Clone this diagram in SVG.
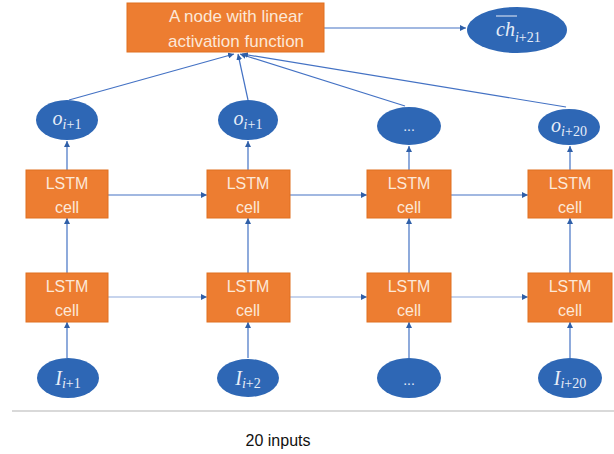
<svg xmlns="http://www.w3.org/2000/svg" width="614" height="454" viewBox="0 0 614 454">
<style>
.box{fill:#ED7D31;stroke:#E07020;stroke-width:1}
.ell{fill:#2E67B5}
.btxt{font-family:"Liberation Sans",Arial,sans-serif;font-size:16px;fill:#FCE8D8;text-anchor:middle}
.ttxt{font-family:"Liberation Sans",Arial,sans-serif;font-size:17px;fill:#FCE8D8;text-anchor:middle}
.mtxt{font-family:"Liberation Serif","Times New Roman",serif;font-style:italic;font-size:20px;fill:#E8EEF8;text-anchor:middle}
.sub{font-size:14px}
.up{font-style:normal}
.dots{font-family:"Liberation Sans",Arial,sans-serif;font-size:14px;fill:#E8EEF8;text-anchor:middle}
.ln{stroke:#4472C4;stroke-width:1.2;fill:none}
.lnl{stroke:#8FAADC;stroke-width:1.2;fill:none}
</style>
<defs>
<marker id="ah" viewBox="0 0 10 10" refX="10" refY="5" markerWidth="6" markerHeight="6" orient="auto" markerUnits="userSpaceOnUse">
<path d="M0,0 L10,5 L0,10 z" fill="#2F5FA8"/>
</marker>
</defs>

<g id="connectors">
<line class="ln" x1="324" y1="28" x2="466" y2="28" marker-end="url(#ah)"/>
<line class="ln" x1="69" y1="100" x2="234" y2="54" marker-end="url(#ah)"/>
<line class="ln" x1="248" y1="100" x2="238" y2="54" marker-end="url(#ah)"/>
<line class="ln" x1="405" y1="106" x2="240" y2="54" marker-end="url(#ah)"/>
<line class="ln" x1="566" y1="107" x2="242" y2="54" marker-end="url(#ah)"/>
<line class="ln" x1="67" y1="170" x2="67" y2="141" marker-end="url(#ah)"/>
<line class="ln" x1="248" y1="170" x2="248" y2="141" marker-end="url(#ah)"/>
<line class="ln" x1="409" y1="170" x2="409" y2="146" marker-end="url(#ah)"/>
<line class="ln" x1="570" y1="170" x2="570" y2="146" marker-end="url(#ah)"/>
<line class="ln" x1="67" y1="273" x2="67" y2="218" marker-end="url(#ah)"/>
<line class="ln" x1="248" y1="273" x2="248" y2="218" marker-end="url(#ah)"/>
<line class="ln" x1="409" y1="273" x2="409" y2="218" marker-end="url(#ah)"/>
<line class="ln" x1="570" y1="273" x2="570" y2="218" marker-end="url(#ah)"/>
<line class="ln" x1="67" y1="358" x2="67" y2="322" marker-end="url(#ah)"/>
<line class="ln" x1="248" y1="358" x2="248" y2="322" marker-end="url(#ah)"/>
<line class="ln" x1="409" y1="358" x2="409" y2="322" marker-end="url(#ah)"/>
<line class="ln" x1="570" y1="358" x2="570" y2="322" marker-end="url(#ah)"/>
<line class="ln" x1="108" y1="195" x2="207" y2="195" marker-end="url(#ah)"/>
<line class="ln" x1="290" y1="195" x2="367" y2="195" marker-end="url(#ah)"/>
<line class="ln" x1="451" y1="195" x2="528" y2="195" marker-end="url(#ah)"/>
<line class="lnl" x1="108" y1="297" x2="207" y2="297" marker-end="url(#ah)"/>
<line class="lnl" x1="290" y1="297" x2="367" y2="297" marker-end="url(#ah)"/>
<line class="lnl" x1="451" y1="297" x2="528" y2="297" marker-end="url(#ah)"/>
</g>

<g id="linear-node">
<rect class="box" x="127" y="3" width="197" height="49"/>
<text class="ttxt" x="236" y="22">A node with linear</text>
<text class="ttxt" x="236" y="47">activation function</text>
</g>

<g id="ch-out">
<ellipse class="ell" cx="517" cy="30" rx="50" ry="23"/>
<text class="mtxt" x="496" y="36" style="text-anchor:start">ch<tspan class="sub" dy="6">i<tspan class="up">+21</tspan></tspan></text>
<line x1="496" y1="16" x2="517" y2="16" stroke="#E8EEF8" stroke-width="1"/>
</g>

<g id="o1"><ellipse class="ell" cx="67" cy="120" rx="31" ry="20"/><text class="mtxt" x="67" y="125">o<tspan class="sub" dy="4">i<tspan class="up">+1</tspan></tspan></text></g>
<g id="o2"><ellipse class="ell" cx="248" cy="120" rx="30" ry="20"/><text class="mtxt" x="248" y="125">o<tspan class="sub" dy="4">i<tspan class="up">+1</tspan></tspan></text></g>
<g id="o3"><ellipse class="ell" cx="409" cy="126" rx="32" ry="19"/><text class="dots" x="409" y="131">...</text></g>
<g id="o20"><ellipse class="ell" cx="569" cy="127" rx="31" ry="18"/><text class="mtxt" x="569" y="132">o<tspan class="sub" dy="4">i<tspan class="up">+20</tspan></tspan></text></g>

<g id="u1"><rect class="box" x="26" y="170" width="82" height="48"/><text class="btxt" x="67" y="189">LSTM</text><text class="btxt" x="67" y="213">cell</text></g>
<g id="u2"><rect class="box" x="207" y="170" width="83" height="48"/><text class="btxt" x="248" y="189">LSTM</text><text class="btxt" x="248" y="213">cell</text></g>
<g id="u3"><rect class="box" x="367" y="170" width="84" height="48"/><text class="btxt" x="409" y="189">LSTM</text><text class="btxt" x="409" y="213">cell</text></g>
<g id="u4"><rect class="box" x="528" y="170" width="84" height="48"/><text class="btxt" x="570" y="189">LSTM</text><text class="btxt" x="570" y="213">cell</text></g>

<g id="l1"><rect class="box" x="26" y="273" width="82" height="49"/><text class="btxt" x="67" y="292">LSTM</text><text class="btxt" x="67" y="316">cell</text></g>
<g id="l2"><rect class="box" x="207" y="273" width="83" height="49"/><text class="btxt" x="248" y="292">LSTM</text><text class="btxt" x="248" y="316">cell</text></g>
<g id="l3"><rect class="box" x="367" y="273" width="84" height="49"/><text class="btxt" x="409" y="292">LSTM</text><text class="btxt" x="409" y="316">cell</text></g>
<g id="l4"><rect class="box" x="528" y="273" width="84" height="49"/><text class="btxt" x="570" y="292">LSTM</text><text class="btxt" x="570" y="316">cell</text></g>

<g id="i1"><ellipse class="ell" cx="68" cy="378" rx="31" ry="20"/><text class="mtxt" x="68" y="385">I<tspan class="sub" dy="3">i<tspan class="up">+1</tspan></tspan></text></g>
<g id="i2"><ellipse class="ell" cx="248" cy="378" rx="31" ry="19"/><text class="mtxt" x="248" y="385">I<tspan class="sub" dy="3">i<tspan class="up">+2</tspan></tspan></text></g>
<g id="i3"><ellipse class="ell" cx="409" cy="378" rx="32" ry="20"/><text class="dots" x="409" y="385">...</text></g>
<g id="i20"><ellipse class="ell" cx="570" cy="378" rx="32" ry="20"/><text class="mtxt" x="570" y="385">I<tspan class="sub" dy="3">i<tspan class="up">+20</tspan></tspan></text></g>

<line x1="12" y1="411" x2="614" y2="411" stroke="#D9D9D9" stroke-width="2"/>
<text x="278" y="446" font-family="'Liberation Sans',Arial,sans-serif" font-size="16" fill="#111" text-anchor="middle">20 inputs</text>
</svg>
